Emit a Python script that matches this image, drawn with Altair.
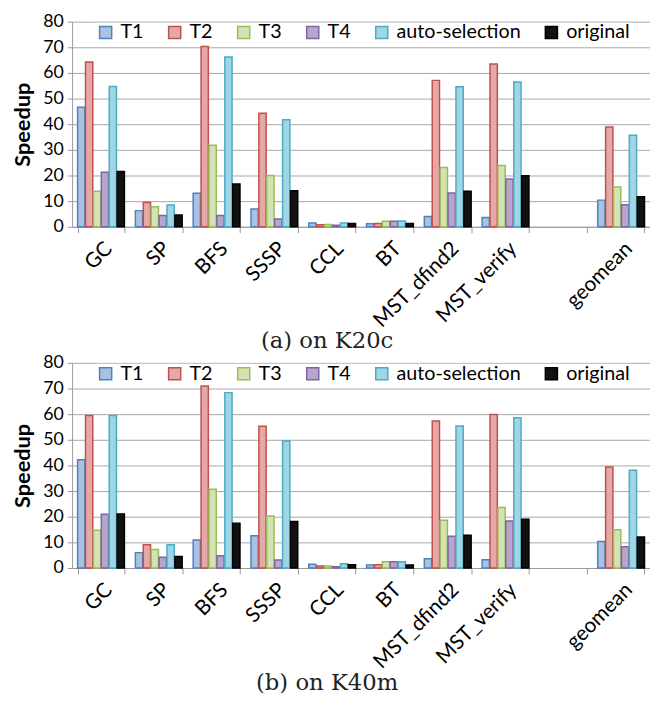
import altair as alt
import pandas as pd

categories = ["GC", "SP", "BFS", "SSSP", "CCL", "BT", "MST_dfind2", "MST_verify", " ", "geomean"]
bench = ["GC", "SP", "BFS", "SSSP", "CCL", "BT", "MST_dfind2", "MST_verify", "geomean"]
series = ["T1", "T2", "T3", "T4", "auto-selection", "original"]

# (a) K20c
k20_t1 = [46.6, 6.3, 13.1, 6.9, 1.5, 1.2, 4.0, 3.6, 10.4]
k20_t2 = [64.3, 9.5, 70.3, 44.3, 0.8, 1.3, 57.1, 63.5, 38.9]
k20_t3 = [13.9, 7.8, 31.8, 20.0, 0.9, 2.2, 23.1, 23.9, 15.5]
k20_t4 = [21.3, 4.4, 4.4, 3.0, 0.6, 2.2, 13.2, 18.6, 8.6]
k20_auto = [54.7, 8.5, 66.2, 41.7, 1.5, 2.3, 54.6, 56.5, 35.7]
k20_orig = [21.6, 4.6, 16.7, 14.1, 1.3, 1.3, 13.9, 19.9, 11.7]

# (b) K40m
k40_t1 = [42.2, 6.0, 10.9, 12.6, 1.5, 1.2, 3.6, 3.2, 10.3]
k40_t2 = [59.5, 9.1, 71.0, 55.3, 0.8, 1.3, 57.3, 59.9, 39.4]
k40_t3 = [14.7, 7.2, 30.7, 20.3, 0.8, 2.4, 18.6, 23.6, 14.9]
k40_t4 = [21.0, 4.2, 4.8, 3.1, 0.5, 2.4, 12.4, 18.3, 8.3]
k40_auto = [59.5, 9.1, 68.4, 49.5, 1.7, 2.4, 55.4, 58.6, 38.1]
k40_orig = [21.1, 4.5, 17.5, 18.1, 1.3, 1.2, 12.8, 19.0, 12.1]

stroke_colors = ["#4F81BD", "#C0504D", "#9BBB59", "#8064A2", "#4BACC6", "#000000"]
fill_colors = ["#a9c2e2", "#e4a9a7", "#d3e3b6", "#b7a6cc", "#9fd5e4", "#111111"]

FONT = "Lato"


def make_df(lists):
    rows = []
    for s, vals in zip(series, lists):
        for b, v in zip(bench, vals):
            rows.append({"bench": b, "series": s, "speedup": v})
    return pd.DataFrame(rows)


def panel(df, caption):
    base = alt.Chart(df, title=alt.TitleParams(
        caption, orient="bottom", anchor="middle", frame="bounds",
        font="DejaVu Serif", fontSize=23, fontWeight="normal", color="#222222",
        offset=0, dx=-4))
    return base.mark_bar(strokeWidth=1.5).encode(
        x=alt.X("bench:N", sort=categories,
                scale=alt.Scale(domain=categories, paddingInner=0.19, paddingOuter=0.095),
                axis=alt.Axis(title=None, labelAngle=-45, labelFont=FONT, labelFontSize=21,
                              labelColor="#000000", tickBand="extent", tickSize=6,
                              tickColor="#999999", domainColor="#999999",
                              labelPadding=5, grid=False)),
        xOffset=alt.XOffset("series:N", sort=series, scale=alt.Scale(domain=series, paddingInner=0.08)),
        y=alt.Y("speedup:Q",
                scale=alt.Scale(domain=[0, 80], nice=False),
                axis=alt.Axis(title="Speedup", titleFont=FONT, titleFontSize=22,
                              titleFontWeight="bold", titleColor="#000000", titlePadding=8,
                              labelFont=FONT, labelFontSize=18, labelColor="#000000",
                              values=[0, 10, 20, 30, 40, 50, 60, 70, 80],
                              gridColor="#a6a6a6", gridWidth=1, domainColor="#999999",
                              tickColor="#999999", tickSize=5, labelPadding=4)),
        fill=alt.Fill("series:N", sort=series,
                      scale=alt.Scale(domain=series, range=fill_colors),
                      legend=alt.Legend(title=None, orient="none", legendX=24, legendY=1,
                                        direction="horizontal", columns=6, gridAlign="each",
                                        columnPadding=21, symbolType="square", symbolSize=150,
                                        symbolStrokeWidth=1.5, labelFont=FONT, labelFontSize=20,
                                        labelColor="#000000", labelOffset=5,
                                        fillColor="#ffffff", padding=0)),
        stroke=alt.Stroke("series:N", sort=series,
                          scale=alt.Scale(domain=series, range=stroke_colors)),
    ).properties(width=586, height=208)


top = panel(make_df([k20_t1, k20_t2, k20_t3, k20_t4, k20_auto, k20_orig]), "(a) on K20c")
bottom = panel(make_df([k40_t1, k40_t2, k40_t3, k40_t4, k40_auto, k40_orig]), "(b) on K40m")

chart = alt.vconcat(top, bottom, spacing=0).resolve_scale(
    fill="independent", stroke="independent"
).resolve_legend(fill="independent", stroke="independent").properties(
    padding={"left": 4, "top": 0, "right": 0, "bottom": 0}
).configure_view(strokeWidth=0)

chart.save("out.html", embed_options={"renderer": "svg", "actions": False})
